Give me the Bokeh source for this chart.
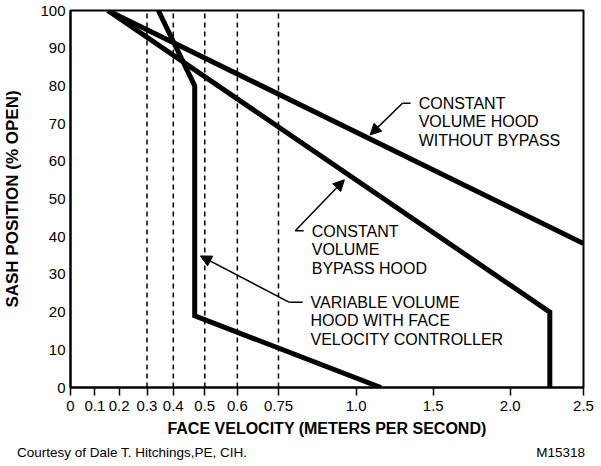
import numpy as np
from bokeh.plotting import figure
from bokeh.layouts import column
from bokeh.models import (FixedTicker, CustomJSTickFormatter, Label, Arrow,
                          NormalHead, Div)
from bokeh.embed import file_html
from bokeh.resources import INLINE

# ---- axis scale (non-linear velocity axis, piecewise) ----
TICK_VALUES = [0, 0.1, 0.2, 0.3, 0.4, 0.5, 0.6, 0.75, 1.0, 1.5, 2.0, 2.5]
TICK_LABELS = ["0", "0.1", "0.2", "0.3", "0.4", "0.5", "0.6", "0.75", "1.0", "1.5", "2.0", "2.5"]
TICK_AXIS = [0, 24.5, 48.8, 76.8, 103.2, 134.8, 167.5, 208.8, 286.8, 364.2, 441.5, 515]

SASH_TICKS = [0, 10, 20, 30, 40, 50, 60, 70, 80, 90, 100]

# ---- reference (dashed) velocities ----
REF_VELOCITIES = [0.3, 0.4, 0.5, 0.6, 0.75]

# ---- curves ----
CV_NOBYPASS_VEL = [0.153, 2.5]
CV_NOBYPASS_SASH = [100, 38.2]

CV_BYPASS_VEL = [0.153, 2.27, 2.27]
CV_BYPASS_SASH = [100, 20, 0]

VAV_VEL = [0.343, 0.468, 0.468, 1.16]
VAV_SASH = [100, 80, 19, 0]

FOOTER_LEFT = "Courtesy of Dale T. Hitchings,PE, CIH."
FOOTER_RIGHT = "M15318"


def vx(v):
    return np.interp(np.asarray(v, dtype=float), TICK_VALUES, TICK_AXIS)


FONT = "Liberation Sans"

p = figure(width=598, height=444, output_backend="svg", toolbar_location=None,
           x_range=(0, 515), y_range=(0, 100),
           min_border_left=68, min_border_right=15, min_border_top=10,
           min_border_bottom=57)
p.grid.visible = False
p.outline_line_color = "black"
p.outline_line_width = 2
p.background_fill_color = "white"
p.border_fill_color = "white"

# x axis
xa = p.xaxis[0]
xa.ticker = FixedTicker(ticks=TICK_AXIS)
xa.formatter = CustomJSTickFormatter(args=dict(pos=TICK_AXIS, labs=TICK_LABELS), code="""
let best = 0, d = 1e9;
for (let i = 0; i < pos.length; i++) { const e = Math.abs(pos[i] - tick); if (e < d) { d = e; best = i; } }
return labs[best];
""")
xa.minor_tick_line_color = None
xa.major_tick_in = 0
xa.major_tick_out = 8
xa.major_tick_line_width = 1.5
xa.axis_line_width = 2
xa.major_label_text_font = FONT
xa.major_label_text_font_size = "15px"
xa.major_label_text_color = "black"
xa.major_label_standoff = 5
xa.axis_label = "FACE VELOCITY (METERS PER SECOND)"
xa.axis_label_text_font = FONT
xa.axis_label_text_font_style = "bold"
xa.axis_label_text_font_size = "16px"
xa.axis_label_text_color = "black"
xa.axis_label_standoff = 6

# y axis
ya = p.yaxis[0]
ya.ticker = FixedTicker(ticks=SASH_TICKS)
ya.minor_tick_line_color = None
ya.major_tick_in = 0
ya.major_tick_out = 0
ya.axis_line_width = 2
ya.major_label_text_font = FONT
ya.major_label_text_font_size = "15px"
ya.major_label_text_color = "black"
ya.major_label_standoff = 5
ya.axis_label = "SASH POSITION (% OPEN)"
ya.axis_label_text_font = FONT
ya.axis_label_text_font_style = "bold"
ya.axis_label_text_font_size = "17px"
ya.axis_label_text_color = "black"
ya.axis_label_standoff = 15

# dashed reference lines
for v in REF_VELOCITIES:
    xv = float(vx(v))
    p.line([xv, xv], [0, 100], line_color="black", line_width=1.5, line_dash="5 4")

# curves
for vel, sash in [(CV_NOBYPASS_VEL, CV_NOBYPASS_SASH),
                  (CV_BYPASS_VEL, CV_BYPASS_SASH),
                  (VAV_VEL, VAV_SASH)]:
    p.line(vx(vel), sash, line_color="black", line_width=5, line_join="miter")

# annotation texts
def add_text(lines, v, y0, dy=-4.95, size="16px"):
    x = float(vx(v))
    for i, t in enumerate(lines):
        p.add_layout(Label(x=x, y=y0 + i * dy, text=t, text_font=FONT,
                           text_font_size=size, text_color="black",
                           text_baseline="middle", text_align="left"))

add_text(["CONSTANT", "VOLUME HOOD", "WITHOUT BYPASS"], 1.405, 75.4)
add_text(["CONSTANT", "VOLUME", "BYPASS HOOD"], 0.857, 41.5)
add_text(["VARIABLE VOLUME", "HOOD WITH FACE", "VELOCITY CONTROLLER"], 0.853, 22.6)

# leaders with arrows: (text-end, elbow, tip)
LEADERS = [
    ((1.353, 75.4), (1.300, 75.4), (1.090, 67.0)),
    ((0.831, 41.6), (0.804, 41.6), (0.962, 55.1)),
    ((0.828, 22.6), (0.785, 22.6), (0.486, 34.9)),
]
for (a, b, c) in LEADERS:
    p.line(vx([a[0], b[0]]), [a[1], b[1]], line_color="black", line_width=1.5)
    p.add_layout(Arrow(x_start=float(vx(b[0])), y_start=b[1],
                       x_end=float(vx(c[0])), y_end=c[1],
                       line_color="black", line_width=1.5,
                       end=NormalHead(size=11, fill_color="black",
                                      line_color="black", line_width=1)))

# footer
footer = Div(
    text=(f'<div style="display:flex;justify-content:space-between;'
          f'width:568px;margin-left:17px;font-family:\'Liberation Sans\';'
          f'font-size:13.5px;line-height:15px;color:black;padding-top:1px;">'
          f'<span>{FOOTER_LEFT}</span><span>{FOOTER_RIGHT}</span></div>'),
    width=598, height=20, margin=(0, 0, 0, 0))

layout = column(p, footer, spacing=0)
open("out.html", "w").write(file_html(layout, INLINE))
